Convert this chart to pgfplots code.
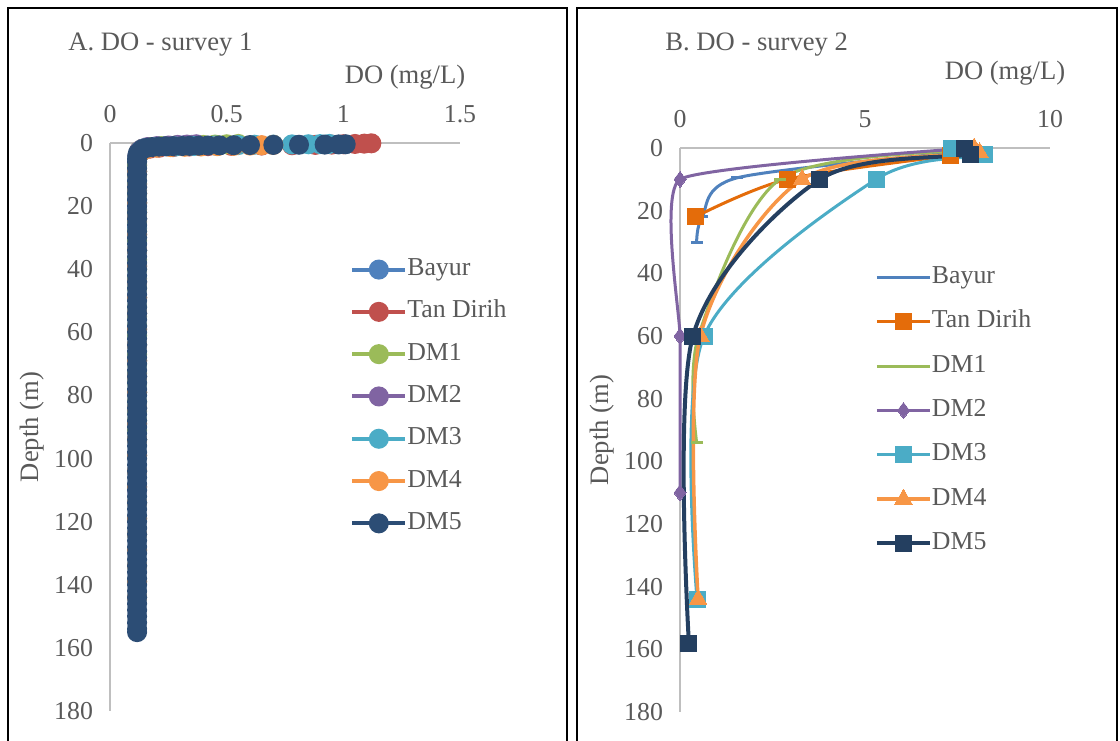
\documentclass[border=0pt]{standalone}
\usepackage{fontspec}
\setmainfont{Liberation Serif}
\usepackage{pgfplots}
\pgfplotsset{compat=1.18}
\definecolor{txt}{HTML}{595959}
\definecolor{axl}{HTML}{BFBFBF}
\definecolor{cBayur}{HTML}{4F81BD}
\definecolor{cTan}{HTML}{C0504D}
\definecolor{cTanB}{HTML}{E46C0A}
\definecolor{cDMa}{HTML}{9BBB59}
\definecolor{cDMb}{HTML}{8064A2}
\definecolor{cDMc}{HTML}{4BACC6}
\definecolor{cDMd}{HTML}{F79646}
\definecolor{cDMe}{HTML}{2C4D75}
\definecolor{cDMeB}{HTML}{243F60}
\newcommand{\fs}{\fontsize{12.9}{14}\selectfont}
\newcommand{\fl}{\fontsize{13.3}{15}\selectfont}
\pgfplotsset{
  panel/.style={
    scale only axis,
    y dir=reverse,
    axis x line=top, axis y line=left,
    axis line style={axl, line width=0.75pt, -},
    major tick length=0pt,
    ymin=0, ymax=180, ytick={0,20,...,180},
    tick label style={font=\fs, text=txt},
    /pgf/number format/assume math mode=true,
    xticklabel style={yshift=6.5pt},
    yticklabel style={xshift=-5pt},
    clip=false,
    legend cell align=left,
    legend style={draw=none, fill=none, font=\fs, text=txt, inner sep=0pt, outer sep=0pt,
      nodes={inner sep=0pt, text height=9pt, text depth=3pt},
      /tikz/every even column/.append style={column sep=2.5pt}},
  },
}
\begin{document}
\begin{tikzpicture}
\path[use as bounding box] (0,0) rectangle (560pt,370pt);
\draw[black, line width=1pt] (4pt,366pt) rectangle (283.5pt,-5pt);
\draw[black, line width=1pt] (288.5pt,366pt) rectangle (558.5pt,-5pt);
\node[anchor=west, font=\fl, text=txt, inner sep=0pt] at (34pt,347.5pt) {A. DO - survey 1};
\node[font=\fl, text=txt, inner sep=0pt] at (202.5pt,331.5pt) {DO (mg/L)};
\node[font=\fl, text=txt, rotate=90, inner sep=0pt] at (16pt,156.5pt) {Depth (m)};
\node[anchor=west, font=\fl, text=txt, inner sep=0pt] at (332.5pt,347.5pt) {B. DO - survey 2};
\node[font=\fl, text=txt, inner sep=0pt] at (502.5pt,333.5pt) {DO (mg/L)};
\node[font=\fl, text=txt, rotate=90, inner sep=0pt] at (301pt,155pt) {Depth (m)};

% ---------------- Panel A ----------------
\begin{axis}[panel, at={(55pt,14.5pt)}, anchor=south west,
  width=175pt, height=284pt,
  xmin=0, xmax=1.5, xtick={0,0.5,1,1.5},
  legend style={at={(axis cs:1.03,36.3)}, anchor=north west, row sep=9.15pt},
  legend image code/.code={\draw[#1, mark=none] (0pt,0pt) -- (26.5pt,0pt);
     \draw[#1] plot coordinates {(13.25pt,0pt)};},
  every axis plot/.append style={line width=2pt, mark=*, mark size=4pt},
]
\addplot[cBayur, mark options={fill=cBayur, draw=cBayur}] coordinates {
(0.35,0.6) (0.32,0.7) (0.29,0.8) (0.26,0.9) (0.23,1.0) (0.2,1.1) (0.17,1.3) (0.15,1.6) (0.135,2) (0.125,3) (0.12,4)
(0.116,6) (0.116,9) (0.116,12) (0.116,15) (0.116,18) (0.116,21) (0.116,24) (0.116,27) (0.116,30)};
\addlegendentry{Bayur}
\addplot[cTan, mark options={fill=cTan, draw=cTan}] coordinates {
(1.12,0.1) (1.09,0.2) (1.05,0.3) (1.0,0.4) (0.95,0.5) (0.88,0.6) (0.78,0.7) (0.65,0.8) (0.52,0.9) (0.42,1.0) (0.34,1.1)
(0.27,1.3) (0.21,1.5) (0.17,1.8) (0.14,2.3) (0.13,3) (0.12,4) (0.116,7) (0.116,10) (0.116,13) (0.116,16) (0.116,19) (0.116,22)};
\addlegendentry{Tan Dirih}
\addplot[cDMa, mark options={fill=cDMa, draw=cDMa}] coordinates {
(0.55,0.3) (0.5,0.4) (0.45,0.5) (0.4,0.6) (0.34,0.7) (0.28,0.8) (0.22,1.0) (0.17,1.3) (0.14,1.8) (0.125,2.5) (0.12,4)
(0.116,7) (0.116,10) (0.116,13) (0.116,16) (0.116,19) (0.116,22) (0.116,25) (0.116,28) (0.116,31) (0.116,34) (0.116,37) (0.116,40)
(0.116,43) (0.116,46) (0.116,49) (0.116,52) (0.116,55) (0.116,58) (0.116,61) (0.116,64) (0.116,67) (0.116,70) (0.116,73) (0.116,76)
(0.116,79) (0.116,82) (0.116,85) (0.116,88) (0.116,91) (0.116,94)};
\addlegendentry{DM1}
\addplot[cDMb, mark options={fill=cDMb, draw=cDMb}] coordinates {
(0.37,0.4) (0.33,0.5) (0.29,0.6) (0.25,0.8) (0.2,1.0) (0.16,1.3) (0.14,1.8) (0.125,2.5) (0.118,4)
(0.116,9) (0.116,14) (0.116,19) (0.116,24) (0.116,29) (0.116,34) (0.116,39) (0.116,44) (0.116,49) (0.116,54) (0.116,59)
(0.116,64) (0.116,69) (0.116,74) (0.116,79) (0.116,84) (0.116,89) (0.116,94) (0.116,99) (0.116,104) (0.116,109) (0.116,110)};
\addlegendentry{DM2}
\addplot[cDMc, mark options={fill=cDMc, draw=cDMc}] coordinates {
(0.94,0.3) (0.9,0.35) (0.85,0.4) (0.78,0.45) (0.7,0.5) (0.62,0.55) (0.55,0.65) (0.45,0.8) (0.36,0.95) (0.28,1.1) (0.2,1.3)
(0.15,1.7) (0.13,2.5) (0.12,4) (0.116,9) (0.116,14) (0.116,19) (0.116,24) (0.116,29) (0.116,34) (0.116,39) (0.116,44)
(0.116,49) (0.116,54) (0.116,59) (0.116,64) (0.116,69) (0.116,74) (0.116,79) (0.116,84) (0.116,89) (0.116,94) (0.116,99)
(0.116,104) (0.116,109) (0.116,114) (0.116,119) (0.116,124) (0.116,129) (0.116,134) (0.116,139) (0.116,144)};
\addlegendentry{DM3}
\addplot[cDMd, mark options={fill=cDMd, draw=cDMd}] coordinates {
(0.7,0.6) (0.65,0.7) (0.6,0.8) (0.53,0.9) (0.46,1.0) (0.39,1.1) (0.32,1.2) (0.26,1.3) (0.2,1.5) (0.16,1.8) (0.14,2.3)
(0.125,3) (0.12,4) (0.116,9) (0.116,14) (0.116,19) (0.116,24) (0.116,29) (0.116,34) (0.116,39) (0.116,44)
(0.116,49) (0.116,54) (0.116,59) (0.116,64) (0.116,69) (0.116,74) (0.116,79) (0.116,84) (0.116,89) (0.116,94) (0.116,99)
(0.116,104) (0.116,109) (0.116,114) (0.116,119) (0.116,124) (0.116,129) (0.116,134) (0.116,139) (0.116,144)};
\addlegendentry{DM4}
\addplot[cDMe, mark options={fill=cDMe, draw=cDMe}] coordinates {
(1.01,0.4) (0.98,0.45) (0.92,0.5) (0.81,0.55) (0.70,0.6) (0.60,0.65) (0.53,0.7) (0.47,0.75) (0.42,0.8) (0.38,0.85)
(0.34,0.9) (0.31,0.95) (0.27,1.0) (0.24,1.05) (0.21,1.15) (0.18,1.3) (0.16,1.5) (0.14,1.9) (0.13,2.5) (0.12,3.2)
(0.117,4) (0.116,5) (0.116,6) (0.116,8) (0.116,10) (0.116,12) (0.116,14) (0.116,16) (0.116,18) (0.116,20) (0.116,22)
(0.116,24) (0.116,26) (0.116,28) (0.116,30) (0.116,32) (0.116,34) (0.116,36) (0.116,38) (0.116,40) (0.116,42) (0.116,44)
(0.116,46) (0.116,48) (0.116,50) (0.116,52) (0.116,54) (0.116,56) (0.116,58) (0.116,60) (0.116,62) (0.116,64) (0.116,66)
(0.116,68) (0.116,70) (0.116,72) (0.116,74) (0.116,76) (0.116,78) (0.116,80) (0.116,82) (0.116,84) (0.116,86) (0.116,88)
(0.116,90) (0.116,92) (0.116,94) (0.116,96) (0.116,98) (0.116,100) (0.116,102) (0.116,104) (0.116,106) (0.116,108)
(0.116,110) (0.116,112) (0.116,114) (0.116,116) (0.116,118) (0.116,120) (0.116,122) (0.116,124) (0.116,126) (0.116,128)
(0.116,130) (0.116,132) (0.116,134) (0.116,136) (0.116,138) (0.116,140) (0.116,142) (0.116,144) (0.116,146) (0.116,148)
(0.116,150) (0.116,152) (0.116,154) (0.116,155)};
\addlegendentry{DM5}
\end{axis}

% ---------------- Panel B ----------------
\begin{axis}[panel, at={(340pt,14pt)}, anchor=south west,
  width=185pt, height=282pt,
  xmin=0, xmax=10, xtick={0,5,10},
  legend style={at={(axis cs:5.27,37.5)}, anchor=north west, row sep=10.15pt},
  legend image code/.code={\draw[#1, mark=none] (0pt,0pt) -- (26.5pt,0pt);
     \draw[#1] plot coordinates {(13.25pt,0pt)};},
  every axis plot/.append style={line width=1.5pt, smooth, tension=0.5},
]
\addplot[cBayur, mark=-, mark size=3pt, mark options={line width=1.5pt}] coordinates {
(7.4,1.5) (1.55,9.5) (0.6,22) (0.45,30)};
\addlegendentry{Bayur}
\addplot[cTanB, mark=square*, mark size=4pt, mark options={fill=cTanB, draw=cTanB, line width=0pt}] coordinates {
(7.3,2.5) (2.9,10) (0.41,22)};
\addlegendentry{Tan Dirih}
\addplot[cDMa, mark=-, mark size=3pt, mark options={line width=1.5pt}] coordinates {
(7.6,1) (2.7,10) (0.5,60) (0.45,94)};
\addlegendentry{DM1}
\addplot[cDMb, tension=0.25, mark=diamond*, mark size=4pt, mark options={fill=cDMb, draw=cDMb, line width=0pt}] coordinates {
(7.9,0) (0,10) (0,60) (0,110)};
\addlegendentry{DM2}
\addplot[cDMc, mark=square*, mark size=4pt, mark options={fill=cDMc, draw=cDMc, line width=0pt}] coordinates {
(7.35,0) (8.24,2.2) (5.3,10) (0.65,60) (0.46,144)};
\addlegendentry{DM3}
\addplot[cDMd, line width=1.75pt, mark=triangle*, mark size=5pt, mark options={fill=cDMd, draw=cDMd, line width=0pt}] coordinates {
(7.95,0) (8.1,1.5) (3.3,10) (0.55,60) (0.49,144)};
\addlegendentry{DM4}
\addplot[cDMeB, line width=2pt, mark=square*, mark size=4pt, mark options={fill=cDMeB, draw=cDMeB, line width=0pt}] coordinates {
(7.7,0) (7.85,2) (3.78,10) (0.35,60) (0.24,158)};
\addlegendentry{DM5}
\end{axis}
\end{tikzpicture}
\end{document}
